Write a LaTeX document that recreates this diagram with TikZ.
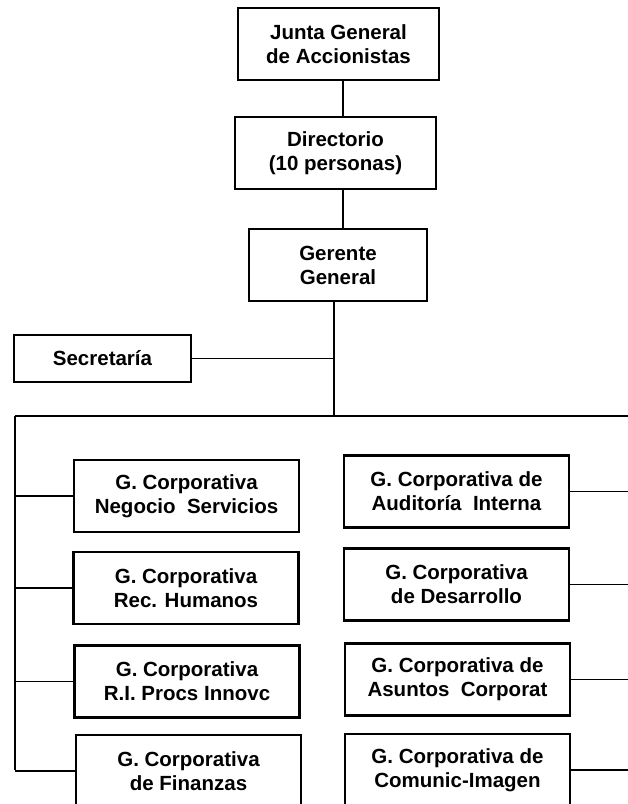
\documentclass[tikz,border=0pt]{standalone}
\usepackage{fontspec}
\setmainfont{Liberation Sans}
\begin{document}
\begin{tikzpicture}[x=1pt,y=-1pt,
  orgbox/.style={draw=black, line width=2.2pt, fill=white, inner sep=0pt,
    minimum width=225pt, minimum height=72pt, align=center,
    font=\fontsize{20.5}{24}\selectfont\bfseries},
  link/.style={draw=black, line width=1.8pt}]
\useasboundingbox (0,0) rectangle (628,804);
\clip (0,0) rectangle (628,804);

% upper chain of command
\node[orgbox, minimum width=201pt] (junta) at (338.5,44) {Junta General\\de Accionistas};
\node[orgbox, minimum width=201pt] (dir) at (335.5,153) {Directorio\\(10 personas)};
\node[orgbox, minimum width=178pt] (ger) at (338,265) {Gerente\\General};
\node[orgbox, minimum width=177pt, minimum height=47pt] (sec) at (102.5,358.5) {Secretaría};

% left column of corporate managements
\node[orgbox] (neg) at (186.5,496) {G. Corporativa\\Negocio\ \ Servicios};
\node[orgbox] (rec) at (186,588) {G. Corporativa\\Rec. Humanos};
\node[orgbox] (ri)  at (187,681.5) {G. Corporativa\\R.I. Procs Innovc};
\node[orgbox] (fin) at (188.5,771) {G. Corporativa\\de Finanzas};

% right column of corporate managements
\node[orgbox] (aud) at (456.5,491.5) {G. Corporativa de\\Auditoría\ \ Interna};
\node[orgbox] (des) at (456.5,584.5) {G. Corporativa\\de Desarrollo};
\node[orgbox] (asu) at (457.5,679.5) {G. Corporativa de\\Asuntos\ \ Corporat};
\node[orgbox] (com) at (457.5,770) {G. Corporativa de\\Comunic-Imagen};

% reference points for the trunk and the bus
\coordinate (v1) at (343,0);
\coordinate (trunk) at (334,0);
\coordinate (busL) at (15,416);
\coordinate (busR) at (628,416);
\coordinate (leftEnd) at (15,770);

\draw[link] (junta.south -| v1) -- (dir.north -| v1);
\draw[link] (dir.south -| v1) -- (ger.north -| v1);
\draw[link] (ger.south -| trunk) -- (busL -| trunk);
\draw[link] (sec.east) -- (sec.east -| trunk);
\draw[link] (busL) -- (busR);
\draw[link] (busL) -- (leftEnd);

\foreach \n in {neg,rec,ri,fin}
  \draw[link] (\n.west -| busL) -- (\n.west);
\foreach \n in {aud,des,asu,com}
  \draw[link] (\n.east) -- (\n.east -| busR);
\end{tikzpicture}
\end{document}
